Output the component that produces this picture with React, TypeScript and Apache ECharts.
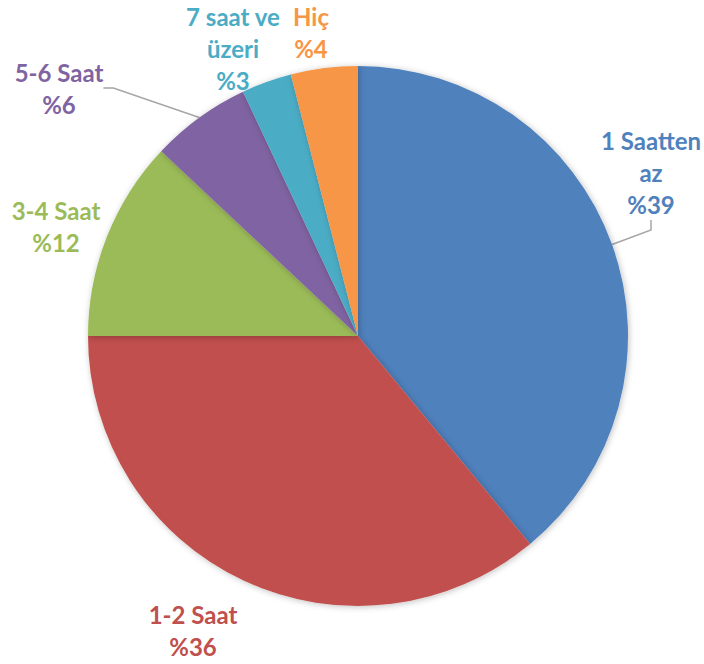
import React, { useEffect, useRef } from "react";
import * as echarts from "echarts";

const categories = ["1 Saatten az", "1-2 Saat", "3-4 Saat", "5-6 Saat", "7 saat ve üzeri", "Hiç"];
const labelTexts = ["1 Saatten\naz", "1-2 Saat", "3-4 Saat", "5-6 Saat", "7 saat ve\nüzeri", "Hiç"];
const values = [39, 36, 12, 6, 3, 4];
const colors = ["#4F81BD", "#C0504D", "#9BBB59", "#8064A2", "#4BACC6", "#F79646"];
const labelCenters: [number, number][] = [
  [651, 172],
  [193, 630],
  [56, 226],
  [59, 88],
  [233, 48],
  [311, 32],
];
const showLine = [true, false, false, true, false, false];

export default function App() {
  const ref = useRef<HTMLDivElement>(null);
  useEffect(() => {
    document.body.style.margin = "0";
    const chart = echarts.init(ref.current!, null, { renderer: "svg" });
    chart.setOption({
      animation: false,
      backgroundColor: "#ffffff",
      series: [
        {
          type: "pie",
          center: [358, 336],
          radius: 270,
          startAngle: 90,
          clockwise: true,
          avoidLabelOverlap: false,
          itemStyle: { borderWidth: 0, shadowBlur: 6, shadowColor: "rgba(0,0,0,0.25)", shadowOffsetX: 1, shadowOffsetY: 1 },
          label: {
            show: true,
            position: "outside",
            fontFamily: "Lato",
            fontWeight: "bold",
            fontSize: 24,
            lineHeight: 32,
            align: "center",
          },
          labelLine: { show: true, length: 10, length2: 10, lineStyle: { color: "#A6A6A6", width: 1.5 } },
          labelLayout: (p: any) => {
            const c = labelCenters[p.dataIndex];
            return { x: c[0], y: c[1], align: "center", verticalAlign: "middle" };
          },
          data: categories.map((name, i) => ({
            name,
            value: values[i],
            itemStyle: { color: colors[i] },
            label: {
              color: colors[i],
              formatter: () => labelTexts[i] + "\n%" + values[i],
            },
            labelLine: { show: showLine[i] },
          })),
        },
      ],
    });
    return () => chart.dispose();
  }, []);
  return <div ref={ref} style={{ width: 704, height: 664, position: "absolute", left: 0, top: 0 }} />;
}
